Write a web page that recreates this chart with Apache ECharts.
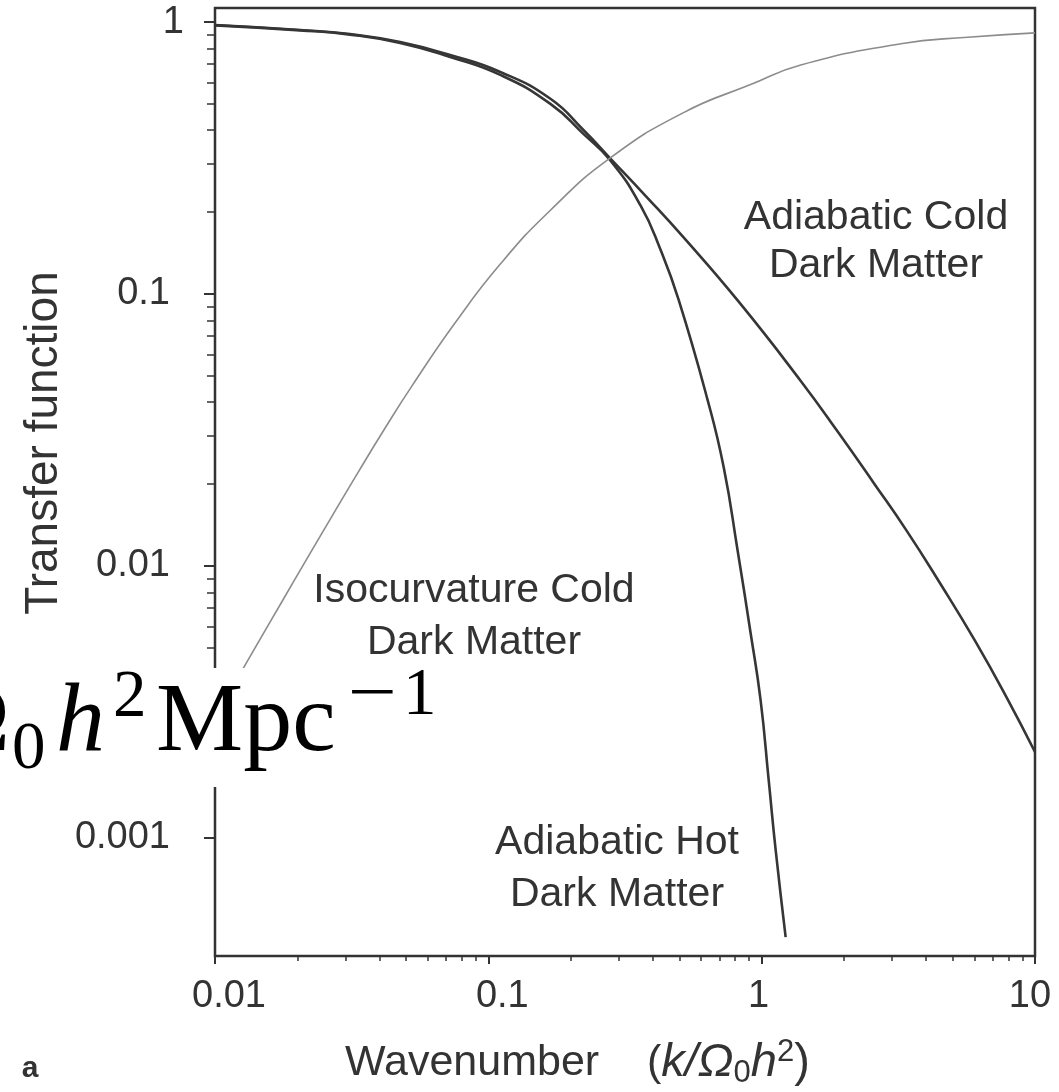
<!DOCTYPE html>
<html><head><meta charset="utf-8">
<script src="https://cdn.jsdelivr.net/npm/echarts@6/dist/echarts.min.js"></script>
<style>html,body{margin:0;padding:0;background:#fff}#c{width:1059px;height:1092px}</style>
</head><body><div id="c"></div>
<script>
// ---- tick labels ----
const xTickValues = [0.01, 0.1, 1, 10];
const xTickLabels = ['0.01', '0.1', '1', '10'];
const yTickValues = [0.001, 0.01, 0.1, 1];
const yTickLabels = ['0.001', '0.01', '0.1', '1'];
const xRange = [0.01, 10];
const yRange = [3.68e-4, 1.126];

// ---- Adiabatic Cold Dark Matter ----
const acdmK = [0.01, 0.0205, 0.0312, 0.0476, 0.0725, 0.1106, 0.1687, 0.2232, 0.2786, 0.376, 0.518, 0.824, 1.39, 1.905, 2.57, 3.39, 4.53, 6.03, 7.96, 10];
const acdmT = [0.975, 0.935, 0.903, 0.844, 0.756, 0.655, 0.522, 0.400, 0.316, 0.2296, 0.1614, 0.0937, 0.0479, 0.031, 0.0202, 0.01349, 0.00853, 0.00531, 0.00322, 0.00207];

// ---- Adiabatic Hot Dark Matter ----
const hdmK = [0.01, 0.0205, 0.0312, 0.0476, 0.0725, 0.1106, 0.1687, 0.2232, 0.2786, 0.360, 0.427, 0.497, 0.634, 0.726, 0.816, 0.911, 0.991, 1.061, 1.125, 1.224];
const hdmT = [0.972, 0.932, 0.899, 0.838, 0.744, 0.639, 0.500, 0.387, 0.311, 0.212, 0.145, 0.0951, 0.0408, 0.0231, 0.01145, 0.00567, 0.00321, 0.00163, 0.000903, 0.000432];

// ---- Isocurvature Cold Dark Matter ----
const isoK = [0.01, 0.01256, 0.01486, 0.01759, 0.02136, 0.02684, 0.03342, 0.04197, 0.05272, 0.07573, 0.1106, 0.1687, 0.2786, 0.518, 0.911, 1.39, 3.23, 5.68, 10];
const isoT = [0.00277, 0.00413, 0.00553, 0.0074, 0.01035, 0.01528, 0.02213, 0.03221, 0.04613, 0.0785, 0.1288, 0.2032, 0.316, 0.4645, 0.5888, 0.695, 0.832, 0.879, 0.912];

// ---- layout / style (not data) ----
const GRID = { left: 215, right: 24, top: 8, bottom: 136 };
const GW = 1059 - GRID.left - GRID.right, GH = 1092 - GRID.top - GRID.bottom;
const xLabelPad = [[0, 0, 0, 28], [0, 0, 0, 28], [0, 6, 0, 0], [0, 10, 0, 0]];
const yLabelPad = [[0, 14, 0, 0], [0, 14, 0, 0], [0, 14, 0, 0], [0, 0, 0, 0]];

const L = Math.log10;
function pts(ks, ts) { return ks.map((k, i) => [L(k), L(ts[i])]); }
function minorVals(lo, hi) {
  const out = [];
  for (let n = lo; n < hi; n++) for (let m = 2; m <= 9; m++) out.push(L(m) + n);
  return out;
}
const xMajor = xTickValues.map(L), yMajor = yTickValues.map(L);
const idxOf = (vals, v) => vals.findIndex(t => Math.abs(t - v) < 1e-6);
const FONT = '"Liberation Sans", Arial, sans-serif';
const SERIF = '"Liberation Serif", "Times New Roman", serif';
const TXT = '#333';
function richFor(pads, size) {
  const r = {};
  pads.forEach((p, i) => { r['l' + i] = { padding: p, fontSize: size, fontFamily: FONT, color: TXT }; });
  return r;
}
const xFmt = v => { const i = idxOf(xMajor, v); return i >= 0 ? '{l' + i + '|' + xTickLabels[i] + '}' : ''; };
const yFmt = v => { const i = idxOf(yMajor, v); return i >= 0 ? '{l' + i + '|' + yTickLabels[i] + '}' : ''; };
const axisBase = (min, max) => ({ type: 'value', min: min, max: max, splitLine: { show: false }, axisLine: { show: false, onZero: false } });
const tickStyle = w => ({ color: '#333', width: w });

const chart = echarts.init(document.getElementById('c'), null, { renderer: 'canvas' });
const option = {
  animation: false,
  backgroundColor: '#fff',
  grid: Object.assign({ show: true, borderColor: '#333', borderWidth: 2.5, backgroundColor: 'transparent' }, GRID),
  xAxis: [
    Object.assign(axisBase(L(xRange[0]), L(xRange[1])), {
      position: 'bottom',
      axisTick: { show: true, customValues: xMajor, length: 8, lineStyle: tickStyle(2) },
      axisLabel: { show: true, customValues: xMajor, formatter: xFmt, rich: richFor(xLabelPad, 38), margin: 22, fontSize: 38, fontFamily: FONT, color: TXT }
    }),
    Object.assign(axisBase(L(xRange[0]), L(xRange[1])), {
      position: 'top', offset: -GH,
      axisTick: { show: true, inside: true, customValues: minorVals(-2, 1), length: 5, lineStyle: tickStyle(1.5) },
      axisLabel: { show: false }
    })
  ],
  yAxis: [
    Object.assign(axisBase(L(yRange[0]), L(yRange[1])), {
      position: 'left',
      axisTick: { show: true, customValues: yMajor, length: 11, lineStyle: tickStyle(2) },
      axisLabel: { show: true, customValues: yMajor, formatter: yFmt, rich: richFor(yLabelPad, 38), margin: 31, fontSize: 38, fontFamily: FONT, color: TXT }
    }),
    Object.assign(axisBase(L(yRange[0]), L(yRange[1])), {
      position: 'right', offset: -GW,
      axisTick: { show: true, inside: true, customValues: minorVals(-3, 0), length: 8, lineStyle: tickStyle(1.5) },
      axisLabel: { show: false }
    })
  ],
  series: [
    { name: 'Adiabatic Cold Dark Matter', type: 'line', xAxisIndex: 0, yAxisIndex: 0, data: pts(acdmK, acdmT), showSymbol: false, smooth: 0.5, lineStyle: { color: '#363636', width: 2.6 } },
    { name: 'Adiabatic Hot Dark Matter', type: 'line', xAxisIndex: 0, yAxisIndex: 0, data: pts(hdmK, hdmT), showSymbol: false, smooth: 0.5, lineStyle: { color: '#363636', width: 2.6 } },
    { name: 'Isocurvature Cold Dark Matter', type: 'line', xAxisIndex: 0, yAxisIndex: 0, data: pts(isoK, isoT), showSymbol: false, smooth: 0.5, lineStyle: { color: '#8c8c8c', width: 1.6 } }
  ],
  graphic: [
    { type: 'text', x: 876, y: 242, z: 50, style: { text: 'Adiabatic Cold\nDark Matter', font: '41px ' + FONT, fill: TXT, align: 'center', textAlign: 'center', verticalAlign: 'middle', textVerticalAlign: 'middle', lineHeight: 48 } },
    { type: 'text', x: 474, y: 617, z: 50, style: { text: 'Isocurvature Cold\nDark Matter', font: '41px ' + FONT, fill: TXT, align: 'center', textAlign: 'center', verticalAlign: 'middle', textVerticalAlign: 'middle', lineHeight: 52 } },
    { type: 'text', x: 617, y: 869, z: 50, style: { text: 'Adiabatic Hot\nDark Matter', font: '41px ' + FONT, fill: TXT, align: 'center', textAlign: 'center', verticalAlign: 'middle', textVerticalAlign: 'middle', lineHeight: 52 } },
    { type: 'text', x: 44, y: 443, rotation: Math.PI / 2, z: 50, style: { text: 'Transfer function', font: '46px ' + FONT, fill: TXT, align: 'center', textAlign: 'center', verticalAlign: 'middle', textVerticalAlign: 'middle' } },
    { type: 'text', x: 345, y: 1063, z: 50, style: {
        text: '{n|Wavenumber    (}{i|k/Ω}{s|0}{i|h}{p|2}{n2|)}', align: 'left', textAlign: 'left', verticalAlign: 'middle', textVerticalAlign: 'middle',
        rich: {
          n: { fontSize: 43, fontFamily: FONT, fill: TXT, color: TXT, lineHeight: 52 },
          n2: { fontSize: 47, fontFamily: FONT, fill: TXT, color: TXT, lineHeight: 52 },
          i: { fontSize: 47, fontFamily: FONT, fontStyle: 'italic', fill: TXT, color: TXT, lineHeight: 52 },
          s: { fontSize: 31, fontFamily: FONT, fill: TXT, color: TXT, lineHeight: 30, verticalAlign: 'bottom' },
          p: { fontSize: 31, fontFamily: FONT, fill: TXT, color: TXT, lineHeight: 30, verticalAlign: 'top' }
        } } },
    { type: 'text', x: 30, y: 1069, z: 50, style: { text: 'a', font: 'bold 30px ' + FONT, fill: TXT, align: 'center', textAlign: 'center', verticalAlign: 'middle', textVerticalAlign: 'middle' } },
    // overlaid formula with white background
    { type: 'rect', z: 100, shape: { x: 0, y: 668, width: 440, height: 119 }, style: { fill: '#fff' } },
    { type: 'text', z: 101, x: 10, y: 724, style: { text: 'Ω', font: '98px ' + SERIF, fill: '#000', align: 'right', textAlign: 'right', verticalAlign: 'middle', textVerticalAlign: 'middle' } },
    { type: 'text', z: 101, x: 12, y: 750, style: { text: '0', font: '67px ' + SERIF, fill: '#000', align: 'left', textAlign: 'left', verticalAlign: 'middle', textVerticalAlign: 'middle' } },
    { type: 'text', z: 101, x: 56, y: 724, style: { text: 'h', font: 'italic 98px ' + SERIF, fill: '#000', align: 'left', textAlign: 'left', verticalAlign: 'middle', textVerticalAlign: 'middle' } },
    { type: 'text', z: 101, x: 113, y: 698, style: { text: '2', font: '67px ' + SERIF, fill: '#000', align: 'left', textAlign: 'left', verticalAlign: 'middle', textVerticalAlign: 'middle' } },
    { type: 'text', z: 101, x: 156, y: 724, style: { text: 'Mpc', font: '98px ' + SERIF, fill: '#000', align: 'left', textAlign: 'left', verticalAlign: 'middle', textVerticalAlign: 'middle' } },
    { type: 'text', z: 101, x: 348, y: 696, scaleX: 1.3, style: { text: '−', font: '67px ' + SERIF, fill: '#000', align: 'left', textAlign: 'left', verticalAlign: 'middle', textVerticalAlign: 'middle' } },
    { type: 'text', z: 101, x: 403, y: 696, style: { text: '1', font: '67px ' + SERIF, fill: '#000', align: 'left', textAlign: 'left', verticalAlign: 'middle', textVerticalAlign: 'middle' } }
  ]
};
chart.setOption(option);
</script>
</body></html>
